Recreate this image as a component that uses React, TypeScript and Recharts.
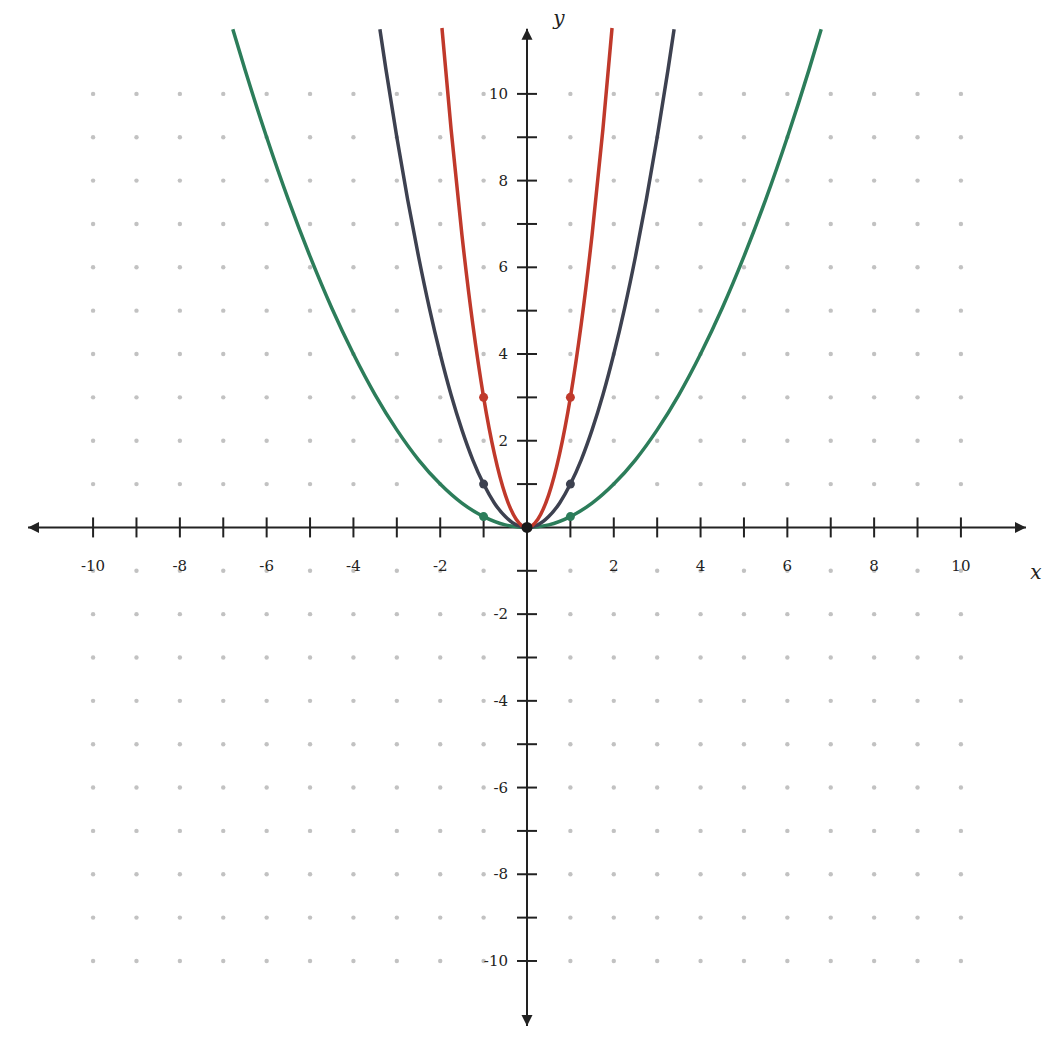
import React from 'react';
import { ComposedChart, XAxis, YAxis, Scatter } from 'recharts';

const axisMin = -11.5;
const axisMax = 11.5;
const gridValues = [-10, -9, -8, -7, -6, -5, -4, -3, -2, -1, 0, 1, 2, 3, 4, 5, 6, 7, 8, 9, 10];
const labelValues = [-10, -8, -6, -4, -2, 2, 4, 6, 8, 10];

// y = 3x^2 (red)
const redX = [-1.96, -1.75, -1.5, -1.25, -1, -0.75, -0.5, -0.25, 0, 0.25, 0.5, 0.75, 1, 1.25, 1.5, 1.75, 1.96];
const redY = [11.52, 9.19, 6.75, 4.69, 3, 1.69, 0.75, 0.19, 0, 0.19, 0.75, 1.69, 3, 4.69, 6.75, 9.19, 11.52];
// y = x^2 (dark)
const darkX = [-3.39, -3.25, -3, -2.75, -2.5, -2.25, -2, -1.75, -1.5, -1.25, -1, -0.75, -0.5, -0.25, 0, 0.25, 0.5, 0.75, 1, 1.25, 1.5, 1.75, 2, 2.25, 2.5, 2.75, 3, 3.25, 3.39];
const darkY = [11.49, 10.56, 9, 7.56, 6.25, 5.06, 4, 3.06, 2.25, 1.56, 1, 0.56, 0.25, 0.06, 0, 0.06, 0.25, 0.56, 1, 1.56, 2.25, 3.06, 4, 5.06, 6.25, 7.56, 9, 10.56, 11.49];
// y = x^2 / 4 (green)
const greenX = [-6.78, -6.5, -6, -5.5, -5, -4.5, -4, -3.5, -3, -2.5, -2, -1.5, -1, -0.5, 0, 0.5, 1, 1.5, 2, 2.5, 3, 3.5, 4, 4.5, 5, 5.5, 6, 6.5, 6.78];
const greenY = [11.49, 10.56, 9, 7.56, 6.25, 5.06, 4, 3.06, 2.25, 1.56, 1, 0.56, 0.25, 0.06, 0, 0.06, 0.25, 0.56, 1, 1.56, 2.25, 3.06, 4, 5.06, 6.25, 7.56, 9, 10.56, 11.49];

const markX = [-1, 1];
const redMarkY = [3, 3];
const darkMarkY = [1, 1];
const greenMarkY = [0.25, 0.25];

const RED = '#c0392b';
const DARK = '#3d4150';
const GREEN = '#2c7d5a';
const AXIS = '#222222';
const TEXT = '#222222';
const FONT = '"DejaVu Serif", serif';

const zip = (xs: number[], ys: number[]) => xs.map((x, i) => ({ x, y: ys[i] }));

const gridDots = gridValues.flatMap((gx) =>
  gridValues.filter((gy) => gx !== 0 && gy !== 0).map((gy) => ({ x: gx, y: gy }))
);
const xTickData = gridValues.filter((v) => v !== 0).map((v) => ({ x: v, y: 0 }));
const yTickData = gridValues.filter((v) => v !== 0).map((v) => ({ x: 0, y: v }));
const xLabelData = labelValues.map((v) => ({ x: v, y: 0, label: String(v) }));
const yLabelData = labelValues.map((v) => ({ x: 0, y: v, label: String(v) }));
const arrowData = [
  { x: axisMax, y: 0, dir: 'right' },
  { x: axisMin, y: 0, dir: 'left' },
  { x: 0, y: axisMax, dir: 'up' },
  { x: 0, y: axisMin, dir: 'down' },
];
const axisNameData = [
  { x: axisMax, y: 0, name: 'x' },
  { x: 0, y: axisMax, name: 'y' },
];

const NoShape = () => <g />;
const GridDot = (p: any) => <circle cx={p.cx} cy={p.cy} r={2.2} fill="#c2c2c2" />;
const XTick = (p: any) => (
  <line x1={p.cx} x2={p.cx} y1={p.cy - 10} y2={p.cy + 10} stroke={AXIS} strokeWidth={2} />
);
const YTick = (p: any) => (
  <line x1={p.cx - 10} x2={p.cx + 10} y1={p.cy} y2={p.cy} stroke={AXIS} strokeWidth={2} />
);
const XLabel = (p: any) => (
  <text x={p.cx} y={p.cy + 44} textAnchor="middle" fontSize={15} fill={TEXT} fontFamily={FONT}>
    {p.payload.label}
  </text>
);
const YLabel = (p: any) => (
  <text x={p.cx - 19} y={p.cy + 5} textAnchor="end" fontSize={15} fill={TEXT} fontFamily={FONT}>
    {p.payload.label}
  </text>
);
const Arrow = (p: any) => {
  const { cx, cy } = p;
  const d = p.payload.dir;
  let pts = '';
  if (d === 'right') pts = `${cx},${cy} ${cx - 11},${cy - 5.5} ${cx - 11},${cy + 5.5}`;
  if (d === 'left') pts = `${cx},${cy} ${cx + 11},${cy - 5.5} ${cx + 11},${cy + 5.5}`;
  if (d === 'up') pts = `${cx},${cy} ${cx - 5.5},${cy + 11} ${cx + 5.5},${cy + 11}`;
  if (d === 'down') pts = `${cx},${cy} ${cx - 5.5},${cy - 11} ${cx + 5.5},${cy - 11}`;
  return <polygon points={pts} fill={AXIS} />;
};
const AxisName = (p: any) => {
  const isX = p.payload.name === 'x';
  return (
    <text
      x={isX ? p.cx + 10 : p.cx + 32}
      y={isX ? p.cy + 52 : p.cy - 4}
      textAnchor="middle"
      fontSize={20}
      fontStyle="italic"
      fill={TEXT}
      fontFamily={FONT}
    >
      {p.payload.name}
    </text>
  );
};
const mkDot = (color: string, r: number) => (p: any) => <circle cx={p.cx} cy={p.cy} r={r} fill={color} />;

const marks = (data: any[], shape: any) => (
  <Scatter data={data} dataKey="y" shape={shape} legendType="none" isAnimationActive={false} />
);
const path = (data: any[], color: string, width: number, joint: string) => (
  <Scatter
    data={data}
    dataKey="y"
    shape={NoShape}
    line={{ stroke: color, strokeWidth: width, fill: 'none' }}
    lineType="joint"
    lineJointType={joint as any}
    legendType="none"
    isAnimationActive={false}
  />
);

export default function App() {
  return (
    <div style={{ width: 1045, height: 1053, marginTop: -8 }}>
      <ComposedChart
        width={1045}
        height={1053}
        margin={{ top: 28, left: 20, right: 27, bottom: 27 }}
        style={{ fontFamily: FONT }}
      >
        <XAxis type="number" dataKey="x" domain={[axisMin, axisMax]} hide />
        <YAxis type="number" dataKey="y" domain={[axisMin, axisMax]} hide />
        {marks(gridDots, GridDot)}
        {path(zip([axisMin, axisMax], [0, 0]), AXIS, 2, 'linear')}
        {path(zip([0, 0], [axisMin, axisMax]), AXIS, 2, 'linear')}
        {marks(xTickData, XTick)}
        {marks(yTickData, YTick)}
        {marks(arrowData, Arrow)}
        {marks(xLabelData, XLabel)}
        {marks(yLabelData, YLabel)}
        {marks(axisNameData, AxisName)}
        {path(zip(greenX, greenY), GREEN, 3.5, 'monotoneX')}
        {path(zip(darkX, darkY), DARK, 3.5, 'monotoneX')}
        {path(zip(redX, redY), RED, 3.5, 'monotoneX')}
        {marks(zip(markX, greenMarkY), mkDot(GREEN, 4.5))}
        {marks(zip(markX, darkMarkY), mkDot(DARK, 4.5))}
        {marks(zip(markX, redMarkY), mkDot(RED, 4.5))}
        {marks(zip([0], [0]), mkDot('#1a1a1a', 5.5))}
      </ComposedChart>
    </div>
  );
}
